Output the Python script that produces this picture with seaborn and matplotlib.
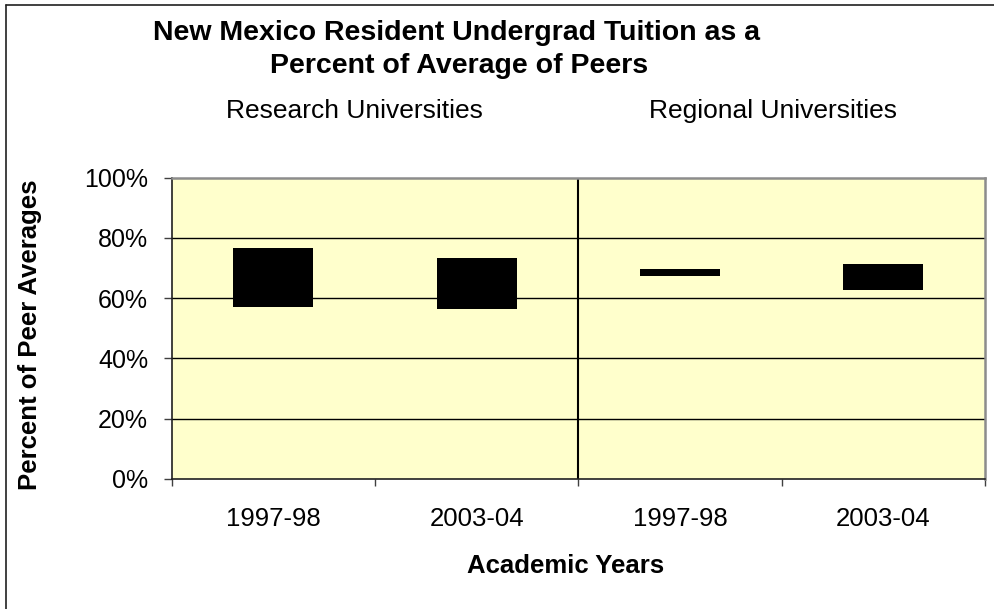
import numpy as np
import pandas as pd
import seaborn as sns
import matplotlib.pyplot as plt
from matplotlib.lines import Line2D

# Datos: rango (minimo - maximo) de la matricula como % del promedio de pares
groups = ["Research Universities", "Research Universities",
          "Regional Universities", "Regional Universities"]
years = ["1997-98", "2003-04", "1997-98", "2003-04"]
low_pct = [57.2, 56.5, 67.5, 62.8]
high_pct = [76.8, 73.3, 69.8, 71.3]

df = pd.DataFrame({"group": groups, "year": years,
                   "low": low_pct, "high": high_pct})
df["pos"] = df["group"] + " " + df["year"]
df["span"] = df["high"] - df["low"]

sns.set_style("white")
plt.rcParams['font.family'] = ['Liberation Sans', 'DejaVu Sans']
plt.rcParams['text.color'] = 'black'
plt.rcParams['xtick.color'] = 'black'
plt.rcParams['ytick.color'] = 'black'

fig = plt.figure(figsize=(9.94, 6.09), dpi=100)
ax = fig.add_axes([0.1727, 0.2135, 0.8183, 0.4947])

# Barras flotantes: altura = rango, base = minimo
sns.barplot(data=df, x="pos", y="span", color="black", width=0.394,
            bottom=df["low"].to_numpy(), saturation=1, ax=ax, zorder=3,
            edgecolor="black", linewidth=0)

ax.set_facecolor("#FFFFCC")
ax.set_ylim(0, 100)
ax.set_xlim(-0.5, 3.5)
ax.set_yticks(np.arange(0, 101, 20))
ax.set_yticklabels([f"{v}%" for v in range(0, 101, 20)], fontsize=18)
ax.set_xticks(range(4))
ax.set_xticklabels(df["year"], fontsize=18.5)
ax.set_xticks([-0.5, 0.5, 1.5, 2.5, 3.5], minor=True)
ax.tick_params(axis="x", which="major", length=0, pad=20)
ax.tick_params(axis="x", which="minor", length=5, width=1, color="#404040",
               direction="out", bottom=True)
ax.tick_params(axis="y", length=6, width=1, color="#404040",
               direction="out", left=True, pad=11)

for v in [20, 40, 60, 80]:
    ax.axhline(v, color="black", lw=1, zorder=1)
ax.axvline(1.5, color="black", lw=1.5, zorder=2)

for s in ["left", "bottom"]:
    ax.spines[s].set_color("#202020")
    ax.spines[s].set_linewidth(1.2)
for s in ["top", "right"]:
    ax.spines[s].set_color("#8c8c8c")
    ax.spines[s].set_linewidth(1.8)

ax.set_xlabel("")
ax.set_ylabel("")

fig.text(0.0302, 0.45, "Percent of Peer Averages", rotation=90,
         fontsize=18.5, fontweight="bold", ha="center", va="center")
fig.text(0.569, 0.071, "Academic Years", fontsize=18.5, fontweight="bold",
         ha="center", va="center")

fig.text(0.459, 0.946, "New Mexico Resident Undergrad Tuition as a",
         fontsize=20.5, fontweight="bold", ha="center", va="center")
fig.text(0.462, 0.892, "Percent of Average of Peers",
         fontsize=20.5, fontweight="bold", ha="center", va="center")
fig.text(0.357, 0.818, "Research Universities", fontsize=19,
         ha="center", va="center")
fig.text(0.778, 0.818, "Regional Universities", fontsize=19,
         ha="center", va="center")

# Marco de la figura (solo visibles arriba e izquierda)
fig.add_artist(Line2D([0.006, 0.006], [0, 0.992], color="#202020", lw=1.2))
fig.add_artist(Line2D([0.006, 1], [0.992, 0.992], color="#202020", lw=1.2))

fig.savefig("out.png", dpi=100)
